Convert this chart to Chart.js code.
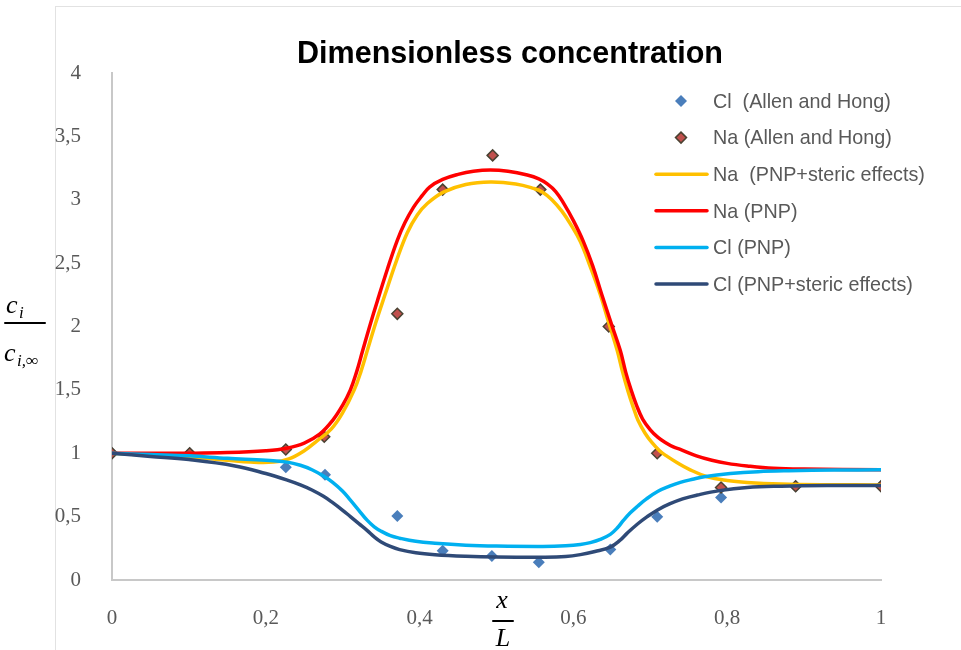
<!DOCTYPE html>
<html>
<head>
<meta charset="utf-8">
<script src="https://cdn.jsdelivr.net/npm/chart.js@4"></script>
<style>
  body { margin: 0; background: #fff; }
  #wrap { position: relative; width: 961px; height: 650px; overflow: hidden; }
  #frame { position: absolute; left: 55px; top: 6px; width: 1000px; height: 700px;
           border-top: 1px solid #e2e2e2; border-left: 1px solid #e2e2e2; }
  canvas { position: absolute; left: 0; top: 0; }
</style>
</head>
<body>
<div id="wrap">
  <div id="frame"></div>
  <canvas id="myChart" width="961" height="650"></canvas>
</div>
<script>
// tick labels (comma decimals, as in the original)
const xTickLabels = ["0", "0,2", "0,4", "0,6", "0,8", "1"];
const yTickLabels = ["0", "0,5", "1", "1,5", "2", "2,5", "3", "3,5", "4"];

// measured points (Allen and Hong)
const clAllenX = [0, 0.101, 0.226, 0.277, 0.371, 0.430, 0.494, 0.555, 0.648, 0.709, 0.792, 0.889, 1.0];
const clAllenY = [1.0, 1.0, 0.89, 0.83, 0.505, 0.23, 0.19, 0.14, 0.24, 0.50, 0.65, 0.74, 0.74];
const naAllenX = [0, 0.101, 0.226, 0.276, 0.371, 0.430, 0.495, 0.557, 0.646, 0.709, 0.792, 0.889, 1.0];
const naAllenY = [1.0, 1.0, 1.03, 1.13, 2.10, 3.08, 3.35, 3.08, 2.0, 1.0, 0.73, 0.74, 0.74];

// model curves
const naStericX = [0, 0.05, 0.1, 0.15, 0.18, 0.21, 0.23, 0.25, 0.267, 0.285, 0.30, 0.315, 0.324, 0.332,
                   0.343, 0.355, 0.37, 0.384, 0.397, 0.41, 0.431, 0.46, 0.492, 0.525, 0.548, 0.56, 0.572,
                   0.585, 0.597, 0.609, 0.622, 0.635, 0.646, 0.657, 0.664, 0.671, 0.678, 0.684, 0.693,
                   0.702, 0.712, 0.722, 0.735, 0.75, 0.774, 0.80, 0.826, 0.87, 0.93, 1.0];
const naStericY = [1.0, 0.985, 0.97, 0.945, 0.93, 0.93, 0.955, 1.02, 1.10, 1.19, 1.32, 1.5, 1.65, 1.81,
                   2.03, 2.25, 2.52, 2.74, 2.88, 2.97, 3.06, 3.12, 3.14, 3.125, 3.09, 3.06, 3.0,
                   2.91, 2.8, 2.67, 2.47, 2.25, 2.03, 1.81, 1.64, 1.49, 1.36, 1.26, 1.16,
                   1.085, 1.02, 0.975, 0.925, 0.875, 0.815, 0.785, 0.77, 0.758, 0.752, 0.75];

const naPnpX = [0, 0.05, 0.1, 0.15, 0.2, 0.227, 0.25, 0.27, 0.287, 0.30, 0.31, 0.318, 0.326, 0.335,
                0.345, 0.358, 0.371, 0.381, 0.392, 0.403, 0.413, 0.43, 0.45, 0.47, 0.492, 0.515, 0.54,
                0.555, 0.566, 0.577, 0.587, 0.60, 0.613, 0.625, 0.637, 0.65, 0.661, 0.668, 0.675, 0.682,
                0.69, 0.70, 0.71, 0.72, 0.73, 0.739, 0.76, 0.78, 0.80, 0.826, 0.86, 0.9, 1.0];
const naPnpY = [1.0, 1.0, 1.0, 1.005, 1.02, 1.04, 1.08, 1.15, 1.26, 1.38, 1.5, 1.64, 1.81, 2.0,
                2.2, 2.45, 2.68, 2.82, 2.94, 3.03, 3.10, 3.16, 3.2, 3.225, 3.235, 3.225, 3.195,
                3.165, 3.125, 3.065, 2.975, 2.835, 2.67, 2.48, 2.25, 2.01, 1.81, 1.64, 1.50, 1.38,
                1.27, 1.185, 1.125, 1.083, 1.05, 1.03, 0.98, 0.945, 0.92, 0.90, 0.882, 0.875, 0.87];

const clPnpX = [0, 0.05, 0.1, 0.15, 0.2, 0.228, 0.245, 0.26, 0.275, 0.287, 0.3, 0.31, 0.321, 0.332,
                0.341, 0.35, 0.362, 0.374, 0.395, 0.42, 0.46, 0.5, 0.56, 0.59, 0.609, 0.622, 0.635,
                0.648, 0.657, 0.665, 0.674, 0.683, 0.695, 0.71, 0.725, 0.739, 0.755, 0.77, 0.804,
                0.84, 0.88, 0.94, 1.0];
const clPnpY = [1.0, 0.99, 0.98, 0.96, 0.945, 0.93, 0.905, 0.87, 0.82, 0.77, 0.70, 0.63, 0.55, 0.47,
                0.42, 0.385, 0.35, 0.33, 0.305, 0.29, 0.275, 0.268, 0.265, 0.27, 0.28, 0.295, 0.32,
                0.36, 0.41, 0.47, 0.53, 0.58, 0.64, 0.70, 0.74, 0.77, 0.795, 0.815, 0.84,
                0.855, 0.862, 0.867, 0.87];

const clStericX = [0, 0.05, 0.1, 0.16, 0.2, 0.227, 0.245, 0.26, 0.275, 0.287, 0.3, 0.31, 0.321, 0.332,
                   0.341, 0.35, 0.362, 0.374, 0.395, 0.42, 0.46, 0.5, 0.56, 0.59, 0.609, 0.628, 0.648,
                   0.66, 0.67, 0.683, 0.696, 0.71, 0.725, 0.742, 0.761, 0.79, 0.826, 0.87, 0.93, 1.0];
const clStericY = [1.0, 0.975, 0.95, 0.9, 0.84, 0.79, 0.75, 0.71, 0.66, 0.61, 0.55, 0.5, 0.445, 0.39,
                   0.34, 0.3, 0.265, 0.24, 0.215, 0.2, 0.188, 0.182, 0.18, 0.185, 0.2, 0.225, 0.26,
                   0.31, 0.37, 0.44, 0.5, 0.555, 0.6, 0.64, 0.67, 0.705, 0.73, 0.74, 0.745, 0.745];

function pts(xs, ys) {
    return xs.map((x, i) => ({ x: x, y: ys[i] }));
}

const lineDefaults = {
    showLine: true,
    pointRadius: 0,
    borderWidth: 3.5,
    tension: 0.4,
    fill: false,
};

const datasets = [
    {
        label: "Cl  (Allen and Hong)",
        data: pts(clAllenX, clAllenY),
        pointStyle: "rectRot",
        pointRadius: 6,
        backgroundColor: "#4a7ebb",
        borderColor: "#4a7ebb",
        borderWidth: 0,
        showLine: false,
        order: 6,
    },
    {
        label: "Na (Allen and Hong)",
        data: pts(naAllenX, naAllenY),
        pointStyle: "rectRot",
        pointRadius: 5.5,
        backgroundColor: "#c0504d",
        borderColor: "#4a4232",
        borderWidth: 1.5,
        showLine: false,
        order: 5,
    },
    Object.assign({ label: "Na  (PNP+steric effects)", data: pts(naStericX, naStericY),
                    borderColor: "#ffc000", backgroundColor: "#ffc000", order: 4 }, lineDefaults),
    Object.assign({ label: "Na (PNP)", data: pts(naPnpX, naPnpY),
                    borderColor: "#ff0000", backgroundColor: "#ff0000", order: 3 }, lineDefaults),
    Object.assign({ label: "Cl (PNP)", data: pts(clPnpX, clPnpY),
                    borderColor: "#00b0f0", backgroundColor: "#00b0f0", order: 2 }, lineDefaults),
    Object.assign({ label: "Cl (PNP+steric effects)", data: pts(clStericX, clStericY),
                    borderColor: "#2f4a77", backgroundColor: "#2f4a77", order: 1 }, lineDefaults),
];

// draws title, legend and the fraction axis titles
const decorations = {
    id: "decorations",
    afterDraw(chart) {
        const ctx = chart.ctx;
        ctx.save();

        // title (narrow bold)
        ctx.fillStyle = "#000";
        ctx.font = "bold 32px 'Liberation Sans', Arial, sans-serif";
        ctx.textBaseline = "alphabetic";
        ctx.textAlign = "left";
        const title = "Dimensionless concentration";
        const tw = ctx.measureText(title).width;
        const sx = 426 / tw;
        ctx.save();
        ctx.translate(510 - 213, 63);
        ctx.scale(sx, 1);
        ctx.fillText(title, 0, 0);
        ctx.restore();

        // legend
        ctx.font = "21px 'Liberation Sans', Arial, sans-serif";
        ctx.textBaseline = "middle";
        datasets.forEach((ds, i) => {
            const y = 101 + i * 36.6;
            if (ds.showLine) {
                ctx.strokeStyle = ds.borderColor;
                ctx.lineWidth = 3.5;
                ctx.lineCap = "round";
                ctx.beginPath();
                ctx.moveTo(656, y);
                ctx.lineTo(707, y);
                ctx.stroke();
            } else {
                const r = ds.pointRadius;
                ctx.beginPath();
                ctx.moveTo(681, y - r);
                ctx.lineTo(681 + r, y);
                ctx.lineTo(681, y + r);
                ctx.lineTo(681 - r, y);
                ctx.closePath();
                ctx.fillStyle = ds.backgroundColor;
                ctx.fill();
                if (ds.borderWidth) {
                    ctx.lineWidth = ds.borderWidth;
                    ctx.strokeStyle = ds.borderColor;
                    ctx.stroke();
                }
            }
            ctx.fillStyle = "#595959";
            ctx.save();
            ctx.translate(713, y + 1);
            ctx.scale(0.94, 1);
            ctx.fillText(ds.label, 0, 0);
            ctx.restore();
        });

        // y axis title: c_i / c_{i,inf}
        ctx.fillStyle = "#000";
        ctx.strokeStyle = "#000";
        ctx.textBaseline = "alphabetic";
        ctx.font = "italic 26px 'Liberation Serif', serif";
        ctx.fillText("c", 6, 313);
        ctx.font = "italic 17px 'Liberation Serif', serif";
        ctx.fillText("i", 19, 318);
        ctx.lineWidth = 2;
        ctx.beginPath();
        ctx.moveTo(5, 323);
        ctx.lineTo(45, 323);
        ctx.stroke();
        ctx.font = "italic 26px 'Liberation Serif', serif";
        ctx.fillText("c", 4, 361);
        ctx.font = "italic 17px 'Liberation Serif', serif";
        ctx.fillText("i,\u221e", 17, 366);

        // x axis title: x / L
        ctx.textAlign = "center";
        ctx.font = "italic 26px 'Liberation Serif', serif";
        ctx.fillText("x", 502, 608);
        ctx.beginPath();
        ctx.moveTo(493, 621);
        ctx.lineTo(513, 621);
        ctx.stroke();
        ctx.fillText("L", 503, 646);

        ctx.restore();
    },
};

const tickFont = { family: "'Liberation Serif', serif", size: 21 };

const ctx = document.getElementById("myChart").getContext("2d");
new Chart(ctx, {
    type: "scatter",
    data: { datasets: datasets },
    options: {
        responsive: false,
        animation: false,
        layout: { padding: { left: 0, right: 80, top: 73, bottom: 0 } },
        plugins: {
            legend: { display: false },
            title: { display: false },
            tooltip: { enabled: false },
        },
        scales: {
            x: {
                type: "linear",
                min: 0,
                max: 1,
                grid: { display: false },
                border: { color: "#c8c8c8", width: 2 },
                ticks: {
                    stepSize: 0.2,
                    padding: 18,
                    color: "#595959",
                    font: tickFont,
                    callback: (v, i) => xTickLabels[i],
                },
                afterFit(scale) { scale.height = 70; },
            },
            y: {
                type: "linear",
                min: 0,
                max: 4,
                grid: { display: false },
                border: { color: "#c8c8c8", width: 2 },
                ticks: {
                    stepSize: 0.5,
                    padding: 23,
                    color: "#595959",
                    font: tickFont,
                    callback: (v, i) => yTickLabels[i],
                },
                afterFit(scale) { scale.width = 112; },
            },
        },
    },
    plugins: [decorations],
});
</script>
</body>
</html>
